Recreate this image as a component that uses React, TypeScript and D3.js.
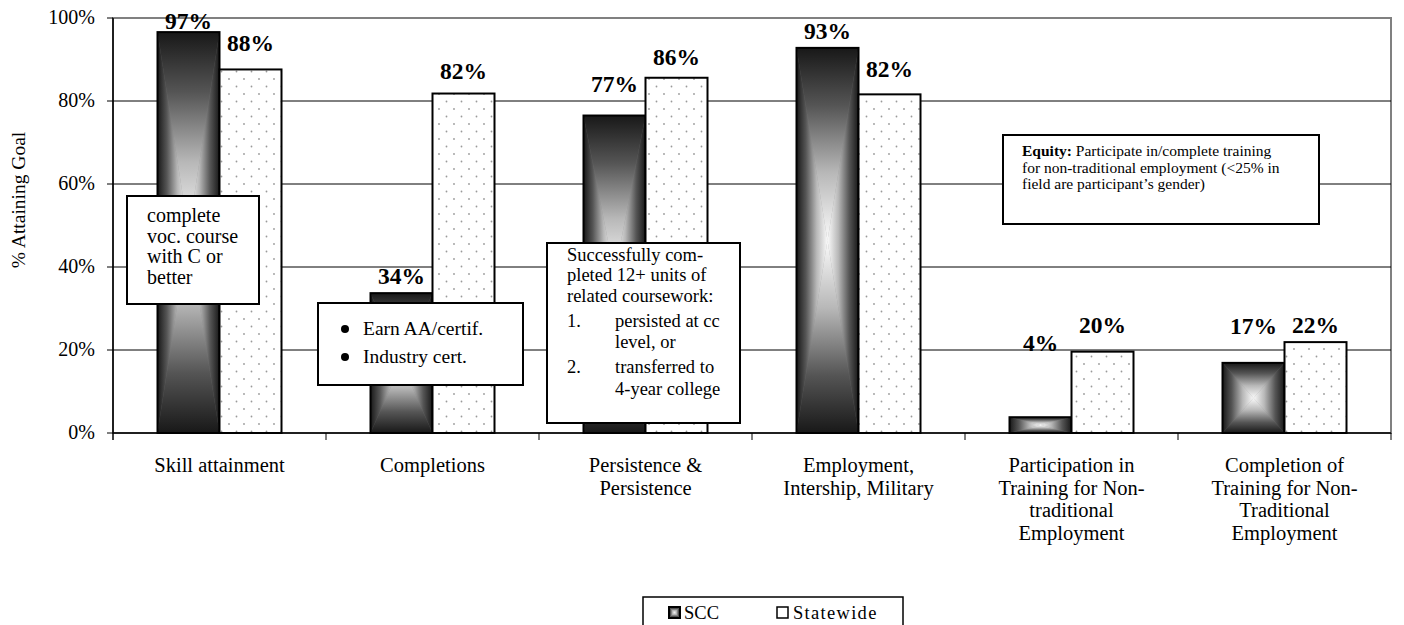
import React from "react";
import * as d3 from "d3";

const categories = [
  "Skill attainment",
  "Completions",
  "Persistence & Persistence",
  "Employment, Intership, Military",
  "Participation in Training for Non-traditional Employment",
  "Completion of Training for Non-Traditional Employment",
];
const categoryLines = [
  ["Skill attainment"],
  ["Completions"],
  ["Persistence &", "Persistence"],
  ["Employment,", "Intership, Military"],
  ["Participation in", "Training for Non-", "traditional", "Employment"],
  ["Completion of", "Training for Non-", "Traditional", "Employment"],
];
const sccValues = [96.6, 33.7, 76.5, 92.8, 3.8, 16.9];
const statewideValues = [87.6, 81.8, 85.6, 81.6, 19.6, 21.9];
const yTicks = [0, 20, 40, 60, 80, 100];
const seriesNames = ["SCC", "Statewide"];

// layout: gap (px) between bar top and its value label baseline
const sccLabelGap = [3, 9, 24, 9, 66, 29];
const stateLabelGap = [18, 15, 13, 17, 19, 9];

const W = 1404;
const H = 625;
const M = { left: 113, right: 1391, top: 18, bottom: 433 };
const BAR_W = 62;
const SERIF = "'Liberation Serif', 'Times New Roman', serif";

function GradientBar({ x, y, w, h }: { x: number; y: number; w: number; h: number }) {
  const cx = x + w / 2;
  const cy = y + h / 2;
  const pts = (a: number[][]) => a.map((p) => p.join(",")).join(" ");
  return (
    <g>
      <rect x={x} y={y} width={w} height={h} fill="#777" />
      <polygon points={pts([[x, y], [x + w, y], [cx, cy]])} fill="url(#gTop)" stroke="url(#gTop)" strokeWidth={0.3} />
      <polygon points={pts([[x, y + h], [x + w, y + h], [cx, cy]])} fill="url(#gBottom)" stroke="url(#gBottom)" strokeWidth={0.3} />
      <polygon points={pts([[x, y], [x, y + h], [cx, cy]])} fill="url(#gLeft)" stroke="url(#gLeft)" strokeWidth={0.3} />
      <polygon points={pts([[x + w, y], [x + w, y + h], [cx, cy]])} fill="url(#gRight)" stroke="url(#gRight)" strokeWidth={0.3} />
      <rect x={x} y={y} width={w} height={h} fill="none" stroke="#000" strokeWidth={2} />
    </g>
  );
}

export default function App() {
  const x = d3.scaleBand<string>().domain(categories).range([M.left, M.right]).padding(0);
  const y = d3.scaleLinear().domain([0, 100]).range([M.bottom, M.top]);
  const bw = x.bandwidth();

  const stops = (
    <>
      <stop offset="0" stopColor="#181818" />
      <stop offset="0.3" stopColor="#555555" />
      <stop offset="0.65" stopColor="#b8b8b8" />
      <stop offset="1" stopColor="#fafafa" />
    </>
  );

  return (
    <svg
      width={W}
      height={H}
      style={{ position: "absolute", left: 0, top: 0, background: "#fff", fontFamily: SERIF }}
    >
      <defs>
        <linearGradient id="gTop" x1="0" y1="0" x2="0" y2="1">{stops}</linearGradient>
        <linearGradient id="gBottom" x1="0" y1="1" x2="0" y2="0">{stops}</linearGradient>
        <linearGradient id="gLeft" x1="0" y1="0" x2="1" y2="0">{stops}</linearGradient>
        <linearGradient id="gRight" x1="1" y1="0" x2="0" y2="0">{stops}</linearGradient>
        <pattern id="dots" patternUnits="userSpaceOnUse" width={15} height={15}>
          <rect width={15} height={15} fill="#fff" />
          <circle cx={4} cy={4} r={0.9} fill="#9a9a9a" />
          <circle cx={11.5} cy={11.5} r={0.9} fill="#9a9a9a" />
        </pattern>
      </defs>

      {/* plot area border */}
      <rect
        x={M.left}
        y={M.top}
        width={M.right - M.left}
        height={M.bottom - M.top}
        fill="#fff"
        stroke="#808080"
        strokeWidth={2}
      />
      {/* gridlines */}
      {yTicks
        .filter((t) => t > 0 && t < 100)
        .map((t) => (
          <line key={t} x1={M.left} x2={M.right} y1={y(t)} y2={y(t)} stroke="#000" strokeWidth={1} />
        ))}

      {/* bars */}
      {categories.map((c, i) => {
        const cx = (x(c) as number) + bw / 2;
        const ys = y(sccValues[i]);
        const yw = y(statewideValues[i]);
        return (
          <g key={c}>
            <GradientBar x={cx - BAR_W} y={ys} w={BAR_W} h={M.bottom - ys} />
            <rect
              x={cx}
              y={yw}
              width={BAR_W}
              height={M.bottom - yw}
              fill="url(#dots)"
              stroke="#000"
              strokeWidth={2}
            />
            <text
              x={cx - BAR_W / 2}
              y={ys - sccLabelGap[i]}
              textAnchor="middle"
              fontWeight="bold"
              fontSize={23.5}
            >
              {Math.round(sccValues[i])}%
            </text>
            <text
              x={cx + BAR_W / 2}
              y={yw - stateLabelGap[i]}
              textAnchor="middle"
              fontWeight="bold"
              fontSize={23.5}
            >
              {Math.round(statewideValues[i])}%
            </text>
          </g>
        );
      })}

      {/* axes */}
      <line x1={M.left} x2={M.left} y1={M.top} y2={M.bottom + 7} stroke="#000" strokeWidth={1.5} />
      <line x1={M.left} x2={M.right} y1={M.bottom} y2={M.bottom} stroke="#000" strokeWidth={1.5} />
      {yTicks.map((t) => (
        <g key={t}>
          <line x1={M.left - 6} x2={M.left} y1={y(t)} y2={y(t)} stroke="#000" strokeWidth={1} />
          <text x={M.left - 18} y={y(t) + 6} textAnchor="end" fontSize={20}>
            {t}%
          </text>
        </g>
      ))}
      {categories.map((c, i) =>
        i === 0 ? null : (
          <line
            key={c}
            x1={x(c) as number}
            x2={x(c) as number}
            y1={M.bottom}
            y2={M.bottom + 7}
            stroke="#000"
            strokeWidth={1}
          />
        )
      )}
      <line x1={M.right} x2={M.right} y1={M.bottom} y2={M.bottom + 7} stroke="#000" strokeWidth={1} />

      {/* category labels */}
      {categories.map((c, i) => (
        <text key={c} x={(x(c) as number) + bw / 2} textAnchor="middle" fontSize={20.5}>
          {categoryLines[i].map((l, j) => (
            <tspan key={j} x={(x(c) as number) + bw / 2} y={472 + j * 22.5}>
              {l}
            </tspan>
          ))}
        </text>
      ))}

      {/* y axis title */}
      <text transform="translate(25,200) rotate(-90)" textAnchor="middle" fontSize={19.5}>
        % Attaining Goal
      </text>

      {/* annotation box 1 */}
      <rect x={127} y={196} width={132} height={108} fill="#fff" stroke="#000" strokeWidth={2} />
      <text fontSize={20}>
        {["complete", "voc. course", "with C or", "better"].map((l, j) => (
          <tspan key={j} x={147} y={222 + j * 20.7}>
            {l}
          </tspan>
        ))}
      </text>

      {/* annotation box 2 */}
      <rect x={318} y={303} width={205} height={82} fill="#fff" stroke="#000" strokeWidth={2} />
      {["Earn AA/certif.", "Industry cert."].map((l, j) => (
        <g key={j}>
          <circle cx={345} cy={329 + j * 28} r={4} fill="#000" />
          <text x={363} y={335 + j * 28} fontSize={19.5}>
            {l}
          </text>
        </g>
      ))}

      {/* annotation box 3 */}
      <rect x={547} y={243} width={193} height={180} fill="#fff" stroke="#000" strokeWidth={2} />
      <text fontSize={18.5}>
        <tspan x={567} y={261}>Successfully com-</tspan>
        <tspan x={567} y={281}>pleted 12+ units of</tspan>
        <tspan x={567} y={302}>related coursework:</tspan>
        <tspan x={567} y={327}>1.</tspan>
        <tspan x={615} y={327}>persisted at cc</tspan>
        <tspan x={615} y={348}>level, or</tspan>
        <tspan x={567} y={373}>2.</tspan>
        <tspan x={615} y={373}>transferred to</tspan>
        <tspan x={615} y={395}>4-year college</tspan>
      </text>

      {/* equity box */}
      <rect x={1003} y={135} width={316} height={89} fill="#fff" stroke="#000" strokeWidth={2} />
      <text fontSize={15.5}>
        <tspan x={1022} y={156} fontWeight="bold">Equity:</tspan>
        <tspan>{"  Participate in/complete training"}</tspan>
        <tspan x={1022} y={172.5}>for non-traditional employment (&lt;25% in</tspan>
        <tspan x={1022} y={189}>field are participant’s gender)</tspan>
      </text>

      {/* legend */}
      <rect x={643} y={597} width={260} height={40} fill="#fff" stroke="#000" strokeWidth={1.5} />
      <GradientBar x={669} y={607} w={11} h={11} />
      <text x={684} y={619} fontSize={18.5}>
        {seriesNames[0]}
      </text>
      <rect x={777} y={607} width={11} height={11} fill="#fff" stroke="#000" strokeWidth={1.5} />
      <text x={793} y={619} fontSize={18.5} letterSpacing={1.3}>
        {seriesNames[1]}
      </text>
    </svg>
  );
}
